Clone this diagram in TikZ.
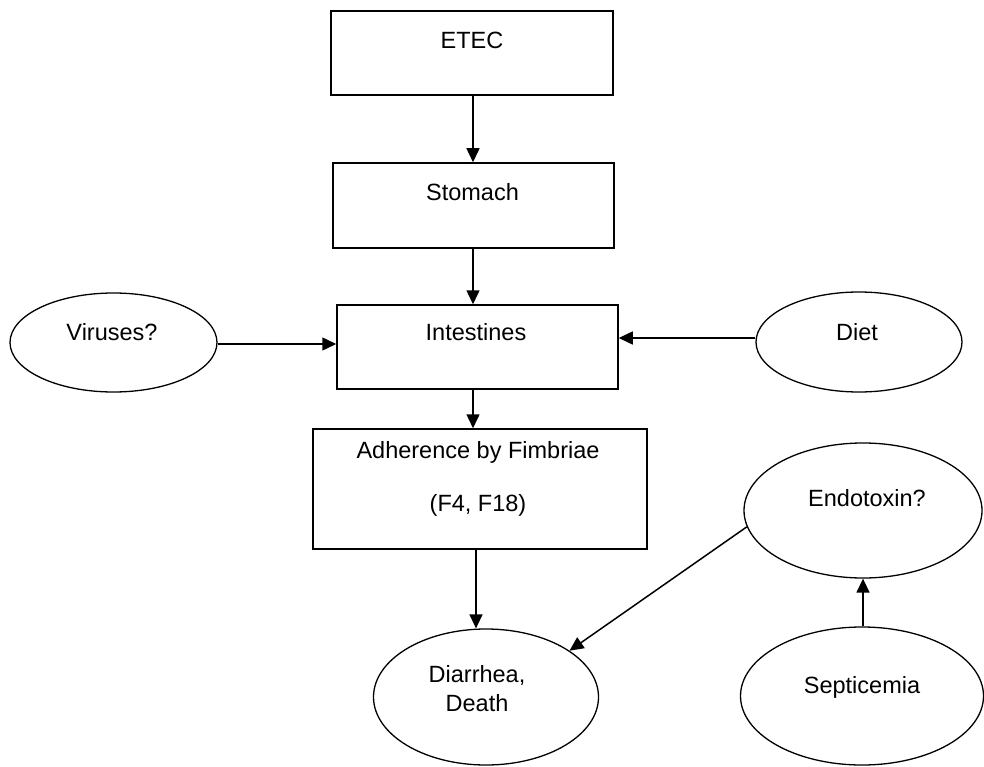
\documentclass[tikz,border=0pt]{standalone}
\usepackage{fontspec}
\setmainfont{Liberation Sans}
\usetikzlibrary{arrows.meta,shapes.geometric}
\begin{document}
\begin{tikzpicture}[x=1pt,y=-1pt,
  box/.style={draw,line width=1.5pt,rectangle,inner sep=0pt},
  oval/.style={draw,line width=1.3pt,ellipse,inner sep=0pt},
  txt/.style={inner sep=0pt,font=\fontsize{23.5}{27}\selectfont},
  arr/.style={line width=1.5pt,-{Triangle[length=14pt,width=13pt]}}]
\useasboundingbox (0,0) rectangle (984,767);
% shapes
\node[box,minimum width=282pt,minimum height=84pt] (etec) at (472,53) {};
\node[box,minimum width=281pt,minimum height=85pt] (stomach) at (473.5,205.5) {};
\node[box,minimum width=281pt,minimum height=84pt] (intest) at (477.5,347) {};
\node[box,minimum width=334pt,minimum height=120pt] (adher) at (480,489) {};
\node[oval,minimum width=207pt,minimum height=99pt] (viruses) at (113.5,342.5) {};
\node[oval,minimum width=206pt,minimum height=100pt] (diet) at (859,342) {};
\node[oval,minimum width=238pt,minimum height=135pt] (endo) at (863,510.5) {};
\node[oval,minimum width=243pt,minimum height=138pt] (sept) at (862,696) {};
\node[oval,minimum width=225pt,minimum height=136pt] (diarr) at (486,697) {};
% texts
\node[txt] (etecT) at (472,40) {ETEC};
\node[txt] (stomachT) at (472.5,192) {Stomach};
\node[txt] (intestT) at (476,332) {Intestines};
\node[txt] (adherT1) at (478,452) {Adherence by Fimbriae};
\node[txt] (adherT2) at (478,505) {(F4, F18)};
\node[txt] (virusesT) at (112,332) {Viruses?};
\node[txt] (dietT) at (857,332) {Diet};
\node[txt] (endoT) at (867,498) {Endotoxin?};
\node[txt] (septT) at (862,687) {Septicemia};
\node[txt] (diarrT1) at (477,675) {Diarrhea,};
\node[txt] (diarrT2) at (477,703) {Death};
% connectors
\draw[arr] ([xshift=1pt]etec.south) -- ([xshift=1pt]etec.south |- stomach.north);
\draw[arr] ([xshift=-0.5pt]stomach.south) -- ([xshift=-0.5pt]stomach.south |- intest.north);
\draw[arr] ([xshift=-4.5pt]intest.south) -- ([xshift=-4.5pt]intest.south |- adher.north);
\draw[arr] ([xshift=-4pt]adher.south) -- ([xshift=-4pt]adher.south |- diarr.north);
\draw[arr] ([yshift=-1.5pt]viruses.east) -- ([yshift=-1.5pt]viruses.east -| intest.west);
\draw[arr] ([yshift=4pt]diet.west) -- ([yshift=4pt]diet.west -| intest.east);
\draw[arr] (endo.188) -- (diarr.29);
\draw[arr] (endo.south |- sept.north) -- (endo.south);
\end{tikzpicture}
\end{document}
